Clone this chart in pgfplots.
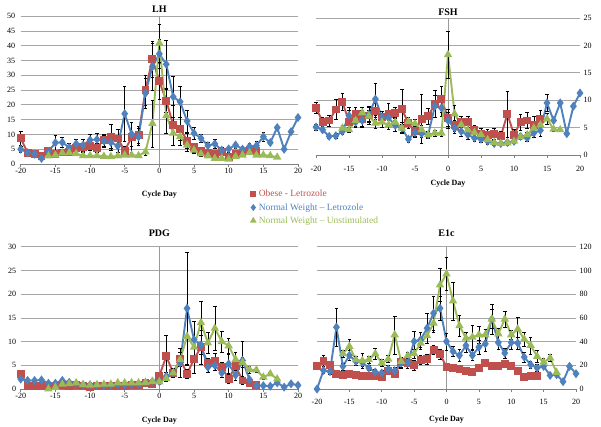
\documentclass[border=0pt]{standalone}
\usepackage{fontspec}
\setmainfont{Liberation Serif}
\usepackage{pgfplots}
\pgfplotsset{compat=1.18}
\usepackage{pgfplotstable}

\definecolor{cr}{HTML}{C0504D}
\definecolor{cb}{HTML}{4F81BD}
\definecolor{cg}{HTML}{9BBB59}

% columns: day, obese-letrozole (r), normal-letrozole (b), normal-unstimulated (g), each with its error
\pgfplotstableread{
x r re b be g ge
-20 8.7 2.5 5.0 1.0 nan nan
-19 3.8 0.5 3.8 0.5 nan nan
-18 3.4 0.5 3.3 0.5 nan nan
-17 2.8 0.5 1.9 0.5 nan nan
-16 4.4 1.2 4.2 1.0 2.7 0.5
-15 3.3 0.8 7.2 2.6 3.0 0.5
-14 3.9 0.8 7.3 1.8 3.7 0.5
-13 4.2 0.8 5.6 1.5 3.8 0.5
-12 5.4 1.2 6.8 1.5 3.5 0.5
-11 5.6 1.5 6.4 2.0 2.8 0.4
-10 6.2 1.5 8.1 2.0 2.8 0.4
-9 5.5 1.5 8.3 2.0 2.8 0.4
-8 8.1 2.0 7.8 2.0 2.6 0.4
-7 9.0 4.5 7.3 2.0 2.5 0.4
-6 8.6 3.0 6.1 2.0 2.7 0.4
-5 4.5 1.5 17.0 9.3 3.0 0.5
-4 9.0 5.0 10.1 4.0 3.0 0.5
-3 9.9 3.0 9.2 3.0 2.8 0.5
-2 25.0 5.0 23.9 5.0 4.1 1.0
-1 35.4 6.0 32.9 8.0 13.7 8.0
0 27.9 6.0 37.2 5.0 40.8 6.5
1 21.4 4.0 33.7 8.0 16.3 6.0
2 13.2 6.8 22.7 7.0 10.4 4.0
3 11.9 4.0 21.0 5.3 9.2 3.0
4 7.9 2.5 14.5 3.7 6.4 2.0
5 5.6 1.5 10.4 2.0 4.7 1.0
6 4.5 1.0 8.7 1.5 3.4 0.7
7 3.6 1.0 6.2 1.2 2.7 0.5
8 3.4 1.0 6.8 1.5 1.9 0.4
9 4.2 1.0 4.7 1.0 1.9 0.4
10 2.5 0.6 5.1 1.0 1.6 0.4
11 3.4 0.8 6.4 1.0 2.5 0.5
12 3.8 0.8 5.0 1.0 3.0 0.5
13 4.4 1.0 5.9 1.0 3.8 0.5
14 4.5 1.0 6.2 1.5 3.0 0.5
15 nan nan 9.2 1.5 3.0 0.4
16 nan nan 7.2 0.01 2.8 0.3
17 nan nan 12.3 0.01 2.3 0.3
18 nan nan 5.0 0.01 nan nan
19 nan nan 10.9 0.01 nan nan
20 nan nan 15.7 0.01 nan nan
}\lhdata

\pgfplotstableread{
x r re b be g ge
-20 8.6 1.0 5.1 0.5 nan nan
-19 6.1 0.8 4.6 0.5 nan nan
-18 6.3 1.0 3.4 0.4 nan nan
-17 8.3 1.8 3.5 0.5 nan nan
-16 9.7 1.5 4.3 0.5 4.9 0.5
-15 6.1 2.0 7.2 1.5 4.6 0.5
-14 7.5 1.2 6.0 1.0 6.3 1.0
-13 6.6 1.5 6.3 1.0 7.7 1.0
-12 7.2 1.5 7.4 1.5 7.1 1.0
-11 8.0 1.5 10.2 2.9 5.8 1.0
-10 6.9 1.0 6.9 1.0 6.0 1.0
-9 7.4 2.0 6.8 1.0 5.5 0.8
-8 7.7 1.0 5.4 1.0 6.0 0.8
-7 8.4 3.6 4.9 1.0 4.9 0.8
-6 5.8 1.0 2.9 0.5 6.1 0.8
-5 4.3 1.0 4.1 0.7 5.7 0.8
-4 6.6 4.4 3.9 0.7 4.6 0.8
-3 7.1 1.5 3.7 0.7 3.7 0.5
-2 9.3 2.5 8.9 2.0 4.0 0.5
-1 10.2 2.4 8.6 1.5 4.0 0.5
0 6.8 1.5 6.3 1.5 18.3 4.3
1 5.4 1.0 4.9 1.0 7.5 1.5
2 6.0 1.0 4.3 0.8 5.5 1.0
3 6.0 1.0 3.7 0.8 4.6 0.8
4 4.5 1.0 3.1 0.5 4.1 0.8
5 3.9 1.0 2.9 0.5 3.7 0.7
6 3.7 1.0 2.5 0.5 2.8 0.5
7 3.8 1.0 2.1 0.4 2.3 0.4
8 3.4 1.0 2.1 0.4 2.1 0.4
9 7.5 4.2 2.3 0.4 2.2 0.4
10 3.7 1.0 2.5 0.4 2.5 0.4
11 6.0 1.5 3.4 0.5 3.3 0.5
12 6.3 1.5 3.1 0.5 3.7 0.5
13 5.5 1.5 4.0 0.7 4.9 0.7
14 6.6 1.5 4.5 1.0 5.5 0.7
15 nan nan 9.5 1.6 6.6 1.0
16 nan nan 6.3 0.01 4.7 0.3
17 nan nan 9.5 0.01 4.6 0.3
18 nan nan 3.9 0.01 nan nan
19 nan nan 8.9 0.01 nan nan
20 nan nan 11.3 0.01 nan nan
}\fshdata

\pgfplotstableread{
x r re b be g ge
-20 3.2 0.3 2.1 0.3 nan nan
-19 0.7 0.2 1.8 0.2 nan nan
-18 0.7 0.2 1.8 0.2 nan nan
-17 0.7 0.2 1.9 0.2 nan nan
-16 0.6 0.2 1.2 0.2 0.0 0.1
-15 0.7 0.2 1.2 0.2 0.35 0.1
-14 0.9 0.2 1.8 0.2 1.0 0.2
-13 0.7 0.2 1.4 0.2 1.1 0.2
-12 0.8 0.2 1.1 0.2 1.3 0.2
-11 0.6 0.2 0.9 0.2 0.9 0.2
-10 0.5 0.2 0.9 0.2 0.8 0.2
-9 0.6 0.2 0.8 0.2 0.9 0.2
-8 0.6 0.2 0.8 0.2 1.0 0.2
-7 0.7 0.2 0.8 0.2 1.0 0.2
-6 0.6 0.2 0.9 0.2 1.3 0.2
-5 0.6 0.2 0.9 0.2 1.3 0.2
-4 0.8 0.2 1.0 0.2 1.3 0.2
-3 0.8 0.2 1.0 0.2 1.3 0.2
-2 1.3 0.3 1.3 0.3 1.4 0.3
-1 1.1 0.3 1.6 0.4 1.6 0.3
0 2.8 0.8 1.6 0.5 1.5 0.4
1 6.9 4.5 2.7 0.8 2.2 0.5
2 3.4 0.8 3.4 0.8 3.4 1.0
3 6.3 1.5 5.5 3.1 6.2 1.5
4 3.2 1.0 17.0 11.8 11.1 6.0
5 6.3 3.0 10.4 3.8 8.8 2.0
6 8.8 3.5 9.3 2.0 14.0 4.6
7 5.5 1.0 4.6 1.0 9.7 2.2
8 6.0 1.5 5.0 1.0 12.8 4.7
9 4.6 1.0 3.4 1.0 10.0 2.2
10 2.2 1.0 5.3 2.0 9.1 1.5
11 4.8 1.5 2.9 1.0 6.2 1.5
12 1.8 0.8 6.0 4.0 5.6 1.0
13 1.3 0.5 2.0 0.5 4.1 0.8
14 0.8 0.3 0.7 0.2 4.0 0.5
15 nan nan 0.7 0.2 2.5 0.4
16 nan nan 0.6 0.01 3.2 0.4
17 nan nan 1.3 0.01 2.1 0.3
18 nan nan 0.4 0.01 nan nan
19 nan nan 1.1 0.01 nan nan
20 nan nan 0.8 0.01 nan nan
}\pdgdata

\pgfplotstableread{
x r re b be g ge
-20 19.1 2 0.0 0.01 nan nan
-19 23.8 5 15.7 2 nan nan
-18 20.5 2 14.6 2 nan nan
-17 12.3 2 52.1 16 nan nan
-16 11.5 2 19.1 3 29.7 3
-15 12.9 2 28.3 4 35.9 6
-14 11.8 2 23.3 3 24.7 3
-13 11.2 2 22.4 3 23.8 6
-12 10.7 2 17.7 2 24.7 3
-11 10.7 2 14.3 2 29.7 5
-10 10.1 2 13.5 2 21.9 3
-9 14.9 2 16.8 3 25.2 3
-8 12.9 2 15.4 3 45.7 16
-7 22.4 4 21.9 4 23.3 3
-6 21.9 4 21.9 3 28.0 3
-5 19.9 4 40.1 9 29.7 4
-4 24.7 4 41.5 6 38.7 5
-3 25.2 4 51.3 13 44.9 6
-2 33.1 4 63.9 14 55.5 8
-1 29.4 4 68.1 10 87.7 14
0 18.5 3 40.1 7 97.0 14
1 17.7 3 31.7 4 74.3 16
2 17.1 3 28.3 5 53.3 9
3 14.9 2 36.7 6 42.9 5
4 14.0 2 28.3 4 43.7 10
5 17.7 2 35.3 6 45.7 7
6 21.9 2 38.1 6 45.7 5
7 19.6 2 58.9 12.6 58.9 8
8 19.1 2 39.2 6 46.5 5
9 21.0 2 30.3 4 58.9 7
10 19.1 2 39.2 6 45.7 4
11 14.9 2 38.7 5 50.5 10
12 10.1 1 26.9 4 42.0 6
13 10.7 1 20.5 3 36.7 7
14 10.7 1 17.7 3 27.5 5
15 nan nan 19.1 2 22.7 3
16 nan nan 11.5 0.01 26.1 3
17 nan nan 12.1 0.01 14.0 2
18 nan nan 6.2 0.01 nan nan
19 nan nan 19.1 0.01 nan nan
20 nan nan 12.9 0.01 nan nan
}\eonedata

\pgfplotsset{
  panel/.style={
    scale only axis,
    xmin=-20, xmax=20, ymin=0,
    xtick={-20,-15,...,20},
    axis x line*=bottom,
    x axis line style={draw=black!50, line width=0.6pt},
    xtick style={draw=black!50, line width=0.6pt},
    xtick align=outside, major tick length=3pt,
    ytick style={draw=none},
    ymajorgrids,
    grid style={black!35, line width=0.6pt},
    extra x ticks={0}, extra x tick labels={},
    extra x tick style={grid=major, major grid style={black!40, line width=0.8pt}},
    tick label style={font=\fontsize{8}{9}\selectfont},
    /pgf/number format/assume math mode=true,
    title style={font=\bfseries\fontsize{10}{12}\selectfont},
    xlabel={Cycle Day},
    xlabel style={font=\bfseries\fontsize{8}{9.6}\selectfont},
    clip=false,
  },
  ser/.style={line width=1.9pt,
    error bars/y dir=both, error bars/y explicit,
    error bars/error bar style={black, line width=0.5pt},
    error bars/error mark options={black, line width=0.5pt, mark size=1.8pt, rotate=90}},
  sr/.style={ser, color=cr, mark=square*, mark size=3pt},
  sb/.style={ser, color=cb, mark=diamond*, mark size=3pt},
  sg/.style={ser, color=cg, mark=triangle*, mark size=3pt},
}

\begin{document}
\begin{tikzpicture}
\useasboundingbox (0pt,0pt) rectangle (601pt,-427pt);

% LH
\begin{axis}[panel, at={(20.7pt,-164pt)}, anchor=south west,
  width=277.3pt, height=148pt, ymax=50, ytick={0,5,...,50},
  title={LH}, title style={yshift=-6pt},
  axis y line*=left, y axis line style={draw=none},
  xticklabel style={yshift=2pt},
  yticklabel style={xshift=-2pt},
  xlabel style={yshift=-4pt},
  legend style={at={(0.82,-0.15)}, anchor=north west, draw=none, fill=none,
    font=\fontsize{9.5}{11}\selectfont, row sep=1pt,
    nodes={inner xsep=3.5pt}},
  legend cell align=left,
  legend image code/.code={\draw[only marks, mark size=2pt] plot coordinates {(0pt,0pt)};}]
\addplot[sr] table[x=x, y=r, y error=re] {\lhdata};
\addplot[sb] table[x=x, y=b, y error=be] {\lhdata};
\addplot[sg] table[x=x, y=g, y error=ge] {\lhdata};
\legend{\textcolor{cr}{Obese - Letrozole}, \textcolor{cb}{Normal Weight – Letrozole}, \textcolor{cg}{Normal Weight – Unstimulated}}
\end{axis}

% FSH
\begin{axis}[panel, at={(316pt,-155pt)}, anchor=south west,
  width=264pt, height=137pt, ymax=25, ytick={0,5,...,25},
  title={FSH}, title style={yshift=-7pt},
  xticklabel style={yshift=-5pt},
  xlabel style={yshift=5pt},
  axis y line*=right, y axis line style={draw=none}]
\addplot[sr] table[x=x, y=r, y error=re] {\fshdata};
\addplot[sb] table[x=x, y=b, y error=be] {\fshdata};
\addplot[sg] table[x=x, y=g, y error=ge] {\fshdata};
\end{axis}

% PDG
\begin{axis}[panel, at={(20.7pt,-389pt)}, anchor=south west,
  width=277.3pt, height=142.3pt, ymax=30, ytick={0,5,...,30},
  title={PDG}, title style={yshift=1pt},
  xticklabel style={yshift=2pt},
  yticklabel style={xshift=-1pt},
  xlabel style={yshift=-5pt},
  axis y line*=left, y axis line style={draw=none}]
\addplot[sr] table[x=x, y=r, y error=re] {\pdgdata};
\addplot[sb] table[x=x, y=b, y error=be] {\pdgdata};
\addplot[sg] table[x=x, y=g, y error=ge] {\pdgdata};
\end{axis}

% E1c
\begin{axis}[panel, at={(317pt,-389pt)}, anchor=south west,
  width=259pt, height=142.3pt, ymax=120, ytick={0,20,...,120},
  title={E1c}, title style={yshift=1pt},
  xticklabel style={yshift=-4pt},
  xlabel style={yshift=2pt},
  axis y line*=right, y axis line style={draw=none}]
\addplot[sr] table[x=x, y=r, y error=re] {\eonedata};
\addplot[sb] table[x=x, y=b, y error=be] {\eonedata};
\addplot[sg] table[x=x, y=g, y error=ge] {\eonedata};
\end{axis}
\end{tikzpicture}
\end{document}
